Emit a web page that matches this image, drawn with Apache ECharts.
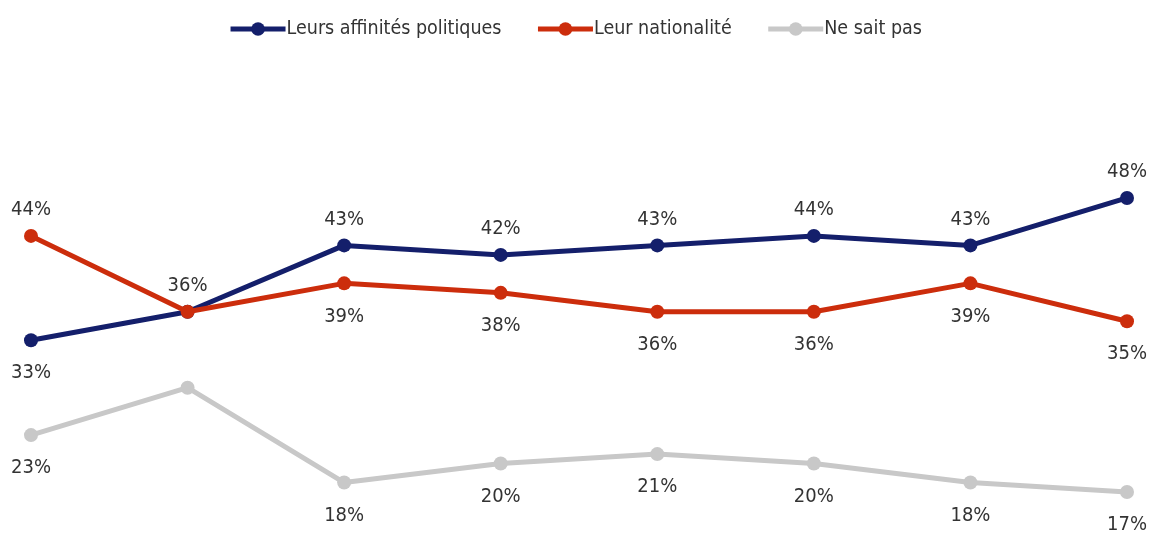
<!DOCTYPE html>
<html>
<head>
<meta charset="utf-8">
<script src="https://cdn.jsdelivr.net/npm/echarts@6/dist/echarts.min.js"></script>
<style>html,body{margin:0;padding:0;background:#fff;}#c{width:1150px;height:533px;}</style>
</head>
<body>
<div id="c"></div>
<script>
var categories = ['1', '2', '3', '4', '5', '6', '7', '8'];
var affinites = [33, 36, 43, 42, 43, 44, 43, 48];
var nationalite = [44, 36, 39, 38, 36, 36, 39, 35];
var nsp = [23, 28, 18, 20, 21, 20, 18, 17];
var affinitesLabelPos = ['bottom', 'top', 'top', 'top', 'top', 'top', 'top', 'top'];
var nationaliteLabelPos = ['top', 'top', 'bottom', 'bottom', 'bottom', 'bottom', 'bottom', 'bottom'];
var nspLabelPos = ['bottom', 'bottom', 'bottom', 'bottom', 'bottom', 'bottom', 'bottom', 'bottom'];

var FONT = '"DejaVu Sans Condensed", "Liberation Sans", sans-serif';

function build(values, pos, hide2) {
  return values.map(function (v, i) {
    var p = pos[i];
    var item = {
      value: v,
      label: {
        position: p,
        distance: p === 'top' ? 9 : 16
      }
    };
    if (hide2 && i === 1) item.label.show = false;
    return item;
  });
}

var chart = echarts.init(document.getElementById('c'));
var labelBase = {
  show: true,
  formatter: '{c}%',
  fontFamily: FONT,
  fontSize: 20,
  color: '#333333'
};
function series(name, data, color, pos, hide2, z) {
  return {
    name: name,
    type: 'line',
    data: build(data, pos, hide2),
    symbol: 'circle',
    symbolSize: 14,
    z: z,
    lineStyle: { color: color, width: 5 },
    itemStyle: { color: color },
    label: labelBase,
    emphasis: { disabled: true },
    animation: false
  };
}
chart.setOption({
  animation: false,
  legend: {
    top: 14,
    left: 'center',
    itemWidth: 55,
    itemHeight: 17,
    itemGap: 34,
    lineStyle: { width: 5 },
    textStyle: { fontFamily: FONT, fontSize: 19.5, color: '#333333', padding: [0, 0, 0, -4] },
    data: ['Leurs affinités politiques', 'Leur nationalité', 'Ne sait pas']
  },
  grid: { left: 31, right: 23, top: 179, bottom: 22, containLabel: false },
  xAxis: {
    type: 'category',
    data: categories,
    boundaryGap: false,
    show: false
  },
  yAxis: {
    type: 'value',
    min: 15,
    max: 50,
    show: false,
    splitLine: { show: false }
  },
  series: [
    series('Leurs affinités politiques', affinites, '#141F6B', affinitesLabelPos, true, 3),
    series('Leur nationalité', nationalite, '#CC2D0C', nationaliteLabelPos, false, 4),
    series('Ne sait pas', nsp, '#C8C8C8', nspLabelPos, true, 2)
  ]
});
</script>
</body>
</html>
